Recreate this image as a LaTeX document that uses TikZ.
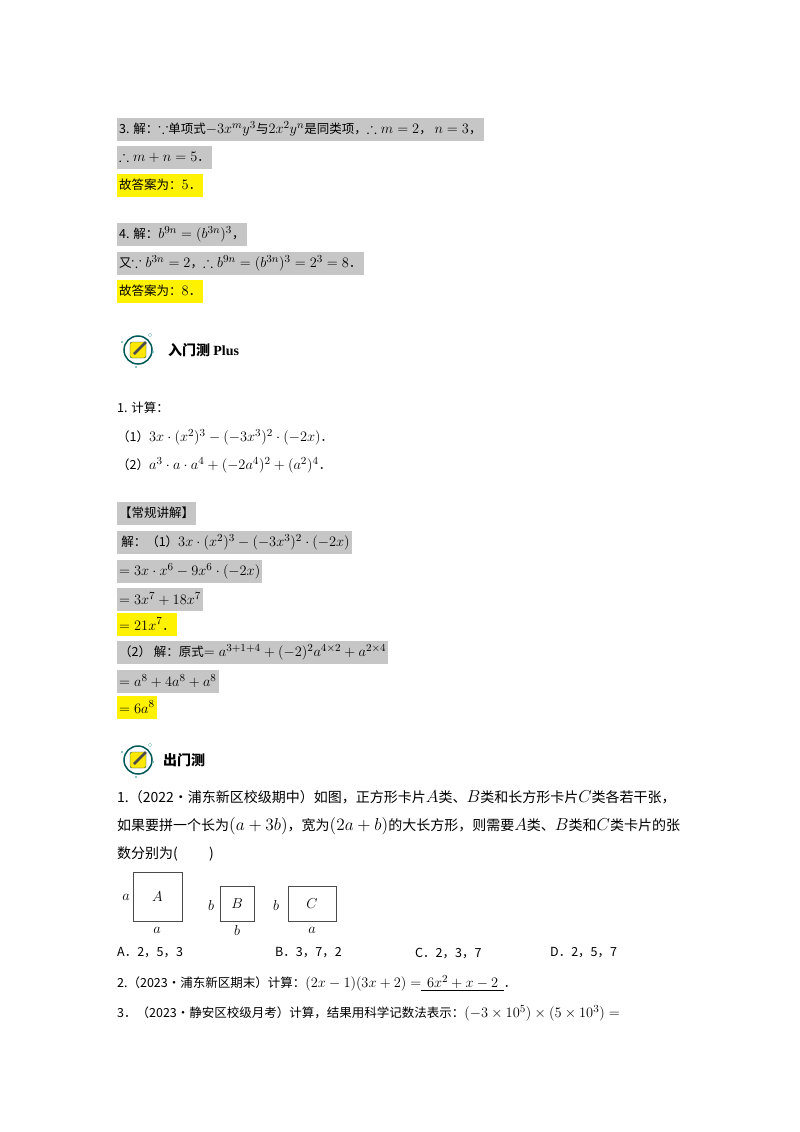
\documentclass[tikz,border=0pt,12pt]{standalone}
\usepackage{amssymb}
\usepackage{graphicx}
\usepackage{fontspec}
\setmainfont{Noto Sans CJK SC}
\newfontfamily\tms{Liberation Serif}
\newcommand\mm[1]{\scalebox{1.2}{$#1$}}
\begin{document}
\begin{tikzpicture}[x=1pt,y=-1pt,
 every node/.style={anchor=west,inner sep=0pt,font=\fontsize{12.5}{14}\selectfont},
 g/.style={fill=gray!45,inner xsep=2pt,minimum height=23pt},
 yl/.style={fill=yellow,inner xsep=2pt,minimum height=23pt},
 bx/.style={draw,thick,gray!60!black,anchor=center},
 lb/.style={anchor=center,font=\fontsize{12}{14}\selectfont}]
\fill[white] (0,0) rectangle (800,1132);
\def\icon#1#2{%
 \draw[teal!70!black,line width=1.5pt] (#1,#2) circle (14);
 \fill[yellow!90!orange,draw=teal!60!black,rounded corners=2pt] (#1-8,#2-8) rectangle (#1+8,#2+8);
 \draw[gray!60!black,line width=2.5pt] (#1-4,#2+4) -- (#1+8,#2-8);
 \fill[teal!60] (#1-16,#2-8) circle (1.2) (#1+15,#2+2) circle (1.2) (#1-2,#2+17) circle (1.2);
 \draw[teal!50] (#1+12,#2-15) circle (1.8);}
\node[g] (l1) at (117,129) {3. 解：\mm{\because}单项式\mm{-3x^my^3}与\mm{2x^2y^n}是同类项，\mm{\therefore m=2}， \mm{n=3}，};
\node[g] (l2) at (117,157) {\mm{\therefore m+n=5}．};
\node[yl] (l3) at (117,185) {故答案为：\mm{5}．};
\node[g] (l4) at (117,234) {4. 解：\mm{b^{9n}=(b^{3n})^3}，};
\node[g] (l5) at (117,263) {又\mm{\because b^{3n}=2}，\mm{\therefore b^{9n}=(b^{3n})^3=2^3=8}．};
\node[yl] (l6) at (117,291) {故答案为：\mm{8}．};
\icon{138}{350}
\node (h1) at (168,350) {\fontsize{14}{16}\selectfont\bfseries 入门测 {\tms Plus}};
\node (p1) at (117,408) {1. 计算：};
\node (p2) at (117,437) {（1）\mm{3x\cdot(x^2)^3-(-3x^3)^2\cdot(-2x)}．};
\node (p3) at (117,465) {（2）\mm{a^3\cdot a\cdot a^4+(-2a^4)^2+(a^2)^4}．};
\node[g] (s0) at (117,513) {【常规讲解】};
\node[g] (s1) at (117,542) {\,解：（1）\mm{3x\cdot(x^2)^3-(-3x^3)^2\cdot(-2x)}};
\node[g] (s2) at (117,571) {\mm{=3x\cdot x^6-9x^6\cdot(-2x)}};
\node[g] (s3) at (117,599) {\mm{=3x^7+18x^7}};
\node[yl] (s4) at (117,624) {\mm{=21x^7}．};
\node[g] (s5) at (117,652) {（2） 解：原式\mm{=a^{3+1+4}+(-2)^2a^{4\times2}+a^{2\times4}}};
\node[g] (s6) at (117,681) {\mm{=a^8+4a^8+a^8}};
\node[yl] (s7) at (117,707) {\mm{=6a^8}};
\icon{138}{760}
\node (h2) at (163,760) {\fontsize{14}{16}\selectfont\bfseries 出门测};
\node (q1) at (117,797) {\fontsize{14}{16}\selectfont 1.（2022•浦东新区校级期中）如图，正方形卡片\mm{A}类、\mm{B}类和长方形卡片\mm{C}类各若干张，};
\node (q1b) at (117,826) {\fontsize{14}{16}\selectfont 如果要拼一个长为\mm{(a+3b)}，宽为\mm{(2a+b)}的大长方形，则需要\mm{A}类、\mm{B}类和\mm{C}类卡片的张};
\node (q1c) at (117,854) {\fontsize{14}{16}\selectfont 数分别为(\qquad\ )};
\node[bx,minimum width=49pt,minimum height=49pt] (A) at (157.5,896.5) {};
\node[bx,minimum width=34pt,minimum height=35pt] (B) at (237,903.5) {};
\node[bx,minimum width=48pt,minimum height=35pt] (C) at (312,903.5) {};
\node[lb] at (A) {\mm{A}}; \node[lb] at (B) {\mm{B}}; \node[lb] at (C) {\mm{C}};
\node[lb] at (126,897) {\mm{a}}; \node[lb] at (157,930) {\mm{a}};
\node[lb] at (211,905) {\mm{b}}; \node[lb] at (237,930) {\mm{b}};
\node[lb] at (276,905) {\mm{b}}; \node[lb] at (312,930) {\mm{a}};
\node (oa) at (117,953) {A．2，5，3};
\node (ob) at (275,953) {B．3，7，2};
\node (oc) at (415,953) {C．2，3，7};
\node (od) at (550,953) {D．2，5，7};
\node (q2) at (117,983) {2.（2023•浦东新区期末）计算：\mm{(2x-1)(3x+2)=}\underline{\ \ \mm{6x^2+x-2}\ \ }．};
\node (q3) at (117,1013) {3．（2023•静安区校级月考）计算，结果用科学记数法表示：\mm{(-3\times10^5)\times(5\times10^3)=}};
\end{tikzpicture}
\end{document}
